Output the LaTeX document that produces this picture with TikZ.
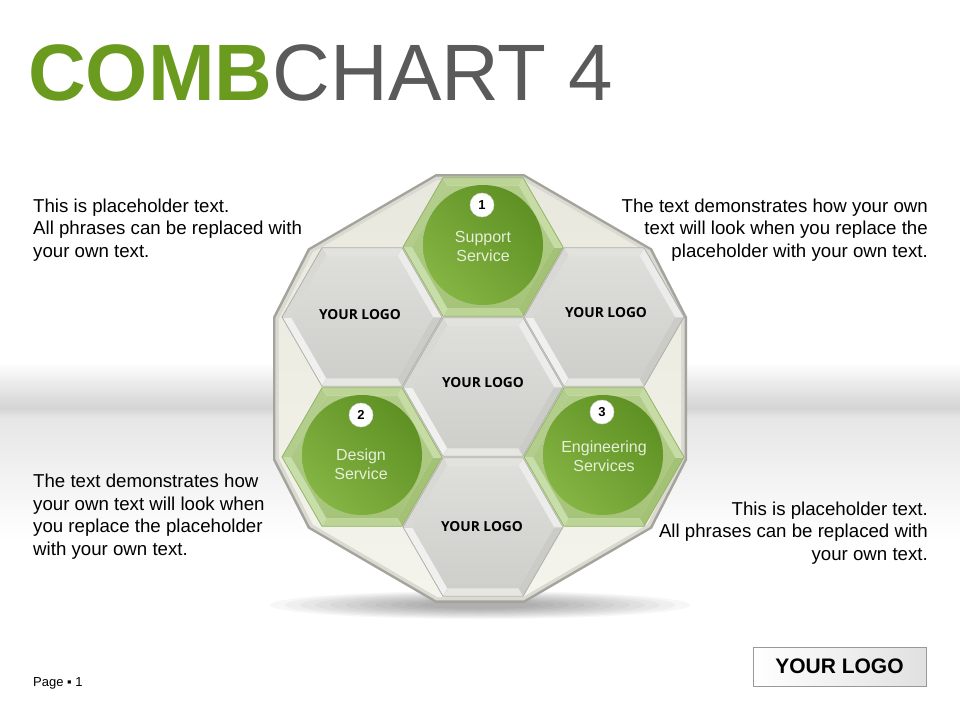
\documentclass[tikz,border=0pt]{standalone}
\usepackage{fontspec}
\setmainfont{Liberation Sans}
\newfontfamily\logofont{Open Sans}
\usetikzlibrary{calc,shadings}

\definecolor{titlegreen}{HTML}{6A9B1F}
\definecolor{titlegray}{HTML}{5A5A5A}
\definecolor{polyedge}{HTML}{A4A49C}
\definecolor{polymid}{HTML}{DADAD2}
\definecolor{polytop}{HTML}{E8E8DE}
\definecolor{polybot}{HTML}{F4F4EC}
% gray hex
\definecolor{graya}{HTML}{CBCBC7}
\definecolor{grayb}{HTML}{E6E6E3}
\definecolor{grayc}{HTML}{F0F0EE}
\definecolor{grayd}{HTML}{D8D8D5}
\definecolor{graye}{HTML}{E2E2DF}
\definecolor{grayf}{HTML}{ECECEA}
\definecolor{graytop}{HTML}{DEDEDB}
\definecolor{graybot}{HTML}{CECECA}
\definecolor{grayline}{HTML}{B0B0AB}
% green hex
\definecolor{greena}{HTML}{A4C276}
\definecolor{greenb}{HTML}{BCD596}
\definecolor{greenc}{HTML}{C8DEAA}
\definecolor{greend}{HTML}{B2CD8C}
\definecolor{greene}{HTML}{BCD596}
\definecolor{greenf}{HTML}{C6DCA4}
\definecolor{greentop}{HTML}{B2CD8A}
\definecolor{greenbot}{HTML}{A6C479}
\definecolor{greenline}{HTML}{94B366}
\definecolor{circdark}{HTML}{578A1E}
\definecolor{circmid}{HTML}{70A132}
\definecolor{circlight}{HTML}{8DBC4A}
\definecolor{circtext}{HTML}{E6EFD8}
\definecolor{bandgray}{HTML}{D4D4D4}
\definecolor{bandlight}{HTML}{E6E6E6}

\tikzset{
  bodytext/.style={inner sep=0pt, font=\fontsize{18.67}{22.4}\selectfont, text=black},
  hexlabel/.style={inner sep=0pt, font=\logofont\bfseries\fontsize{13.8}{17}\selectfont, text=black},
  circlabel/.style={inner sep=0pt, align=center, font=\fontsize{16}{19}\selectfont, text=circtext},
  greencirc/.style={circle, minimum size=120pt, inner sep=0pt,
     upper right=circdark, lower left=circlight, upper left=circmid, lower right=circmid},
  badge/.style={circle, fill=white, draw=black!15, line width=0.5pt, minimum size=24pt, inner sep=0pt,
     font=\bfseries\fontsize{13}{13}\selectfont},
}

\def\polygonpath{(-44,-214.5) -- (44,-214.5) -- (172,-140) -- (207,-71.5) -- (207,71.5) -- (172,140) -- (44,214.5) -- (-44,214.5) -- (-172,140) -- (-207,71.5) -- (-207,-71.5) -- (-172,-140) -- cycle}

\newcommand\hexcell[3]{%
\begin{scope}[shift={(#1,#2)}]
  \foreach \a/\b/\c in {0/60/#3a,60/120/#3b,120/180/#3c,180/240/#3d,240/300/#3e,300/360/#3f}{
    \fill[\c] (\a:80) -- (\b:80) -- (\b:71) -- (\a:71) -- cycle;}
  \shade[top color=#3top, bottom color=#3bot] (0:71) -- (60:71) -- (120:71) -- (180:71) -- (240:71) -- (300:71) -- cycle;
  \foreach \a in {0,60,...,300}{\draw[#3line!50, line width=0.4pt] (\a:80) -- (\a:71);}
  \draw[#3line, line width=0.8pt] (0:80) -- (60:80) -- (120:80) -- (180:80) -- (240:80) -- (300:80) -- cycle;
\end{scope}}

\begin{document}
\begin{tikzpicture}[x=1pt,y=-1pt]
\useasboundingbox (0,0) rectangle (960,720);
\fill[white] (0,0) rectangle (960,720);

% background band
\shade[top color=white, bottom color=bandgray] (0,362) rectangle (960,408);
\shade[top color=bandgray, bottom color=bandlight] (0,408) rectangle (960,418);
\shade[top color=bandlight, bottom color=white] (0,418) rectangle (960,540);

% title
\node[anchor=base west, inner sep=0pt, font=\fontsize{80}{96}\selectfont] (title) at (28,100)
  {\textcolor{titlegreen}{\bfseries COMB}\textcolor{titlegray}{CHART 4}};

% shadow
\foreach \rx/\ry in {210/14,195/13,180/12,165/11,150/10,135/9,120/8,105/7,90/6,75/5,60/4}{
  \fill[black, opacity=0.03] (480,605) ellipse (\rx pt and \ry pt);}

% outer polygon
\begin{scope}[shift={(480,388.5)}]
  \fill[polyedge] \polygonpath;
  \begin{scope}[scale=0.988] \fill[polymid] \polygonpath; \end{scope}
  \begin{scope}[scale=0.972] \shade[top color=polytop, bottom color=polybot] \polygonpath; \end{scope}
\end{scope}

% hexagons
\hexcell{362}{317}{gray}
\hexcell{604}{317}{gray}
\hexcell{483}{387}{gray}
\hexcell{483}{527}{gray}
\hexcell{483}{247}{green}
\hexcell{362}{457}{green}
\hexcell{604}{457}{green}

% hex labels
\node[hexlabel] (logoUL) at (360,315) {YOUR LOGO};
\node[hexlabel] (logoUR) at (606,313) {YOUR LOGO};
\node[hexlabel] (logoC)  at (483,383) {YOUR LOGO};
\node[hexlabel] (logoB)  at (482,527) {YOUR LOGO};

% green circles
\node[greencirc] (support) at (483,245) {};
\node[greencirc] (design) at (362,455) {};
\node[greencirc] (engineering) at (603,455) {};

\node[circlabel] (supporttext) at (483,246) {Support\\Service};
\node[circlabel] (designtext) at (361,464) {Design\\Service};
\node[circlabel] (engtext) at (604,456) {Engineering\\Services};

\node[badge] (b1) at (482,205) {1};
\node[badge] (b2) at (361,415) {2};
\node[badge] (b3) at (602,412) {3};

% body texts (base anchor = baseline of last line)
\node[bodytext, anchor=base west, align=left] (tl) at (33,257)
  {This is placeholder text.\\All phrases can be replaced with\\your own text.};
\node[bodytext, anchor=base east, align=right] (tr) at (928,257)
  {The text demonstrates how your own\\text will look when you replace the\\placeholder with your own text.};
\node[bodytext, anchor=base west, align=left] (bl) at (33,555)
  {The text demonstrates how\\your own text will look when\\you replace the placeholder\\with your own text.};
\node[bodytext, anchor=base east, align=right] (br) at (928,560)
  {This is placeholder text.\\All phrases can be replaced with\\your own text.};

% footer
\node[anchor=base west, inner sep=0pt, font=\fontsize{13}{15}\selectfont] (page) at (33,686.5) {Page ▪ 1};

\shade[left color=white, right color=black!12, draw=black!40, line width=0.8pt] (753,647) rectangle (926,686);
\node[inner sep=0pt, font=\bfseries\fontsize{21}{24}\selectfont] (logobox) at (839.5,666.5) {YOUR LOGO};
\end{tikzpicture}
\end{document}
